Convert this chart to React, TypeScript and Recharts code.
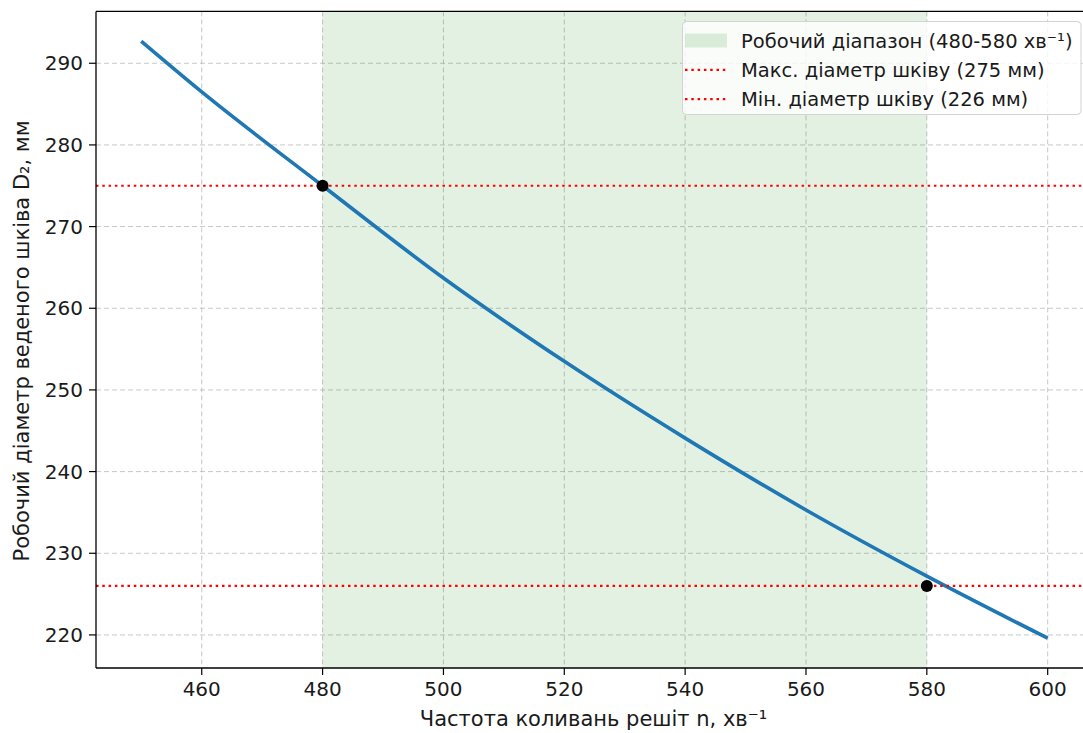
import React from 'react';
import {
  ComposedChart,
  Line,
  XAxis,
  YAxis,
  CartesianGrid,
  ReferenceArea,
  ReferenceLine,
  ReferenceDot,
  Legend,
  Label,
} from 'recharts';

// ---- data ----
const frequency = [450, 460, 480, 500, 520, 540, 560, 580, 600];
const diameter = [292.7, 286.5, 275.0, 263.7, 253.5, 244.1, 235.3, 227.2, 219.6];
const xTicks = [460, 480, 500, 520, 540, 560, 580, 600];
const yTicks = [220, 230, 240, 250, 260, 270, 280, 290];
const workRange = [480, 580];
const limitDiameters = [275, 226];
const limitFrequencies = [480, 580];
const legendLabels = [
  'Робочий діапазон (480-580 хв⁻¹)',
  'Макс. діаметр шківу (275 мм)',
  'Мін. діаметр шківу (226 мм)',
];
const xLabel = 'Частота коливань решіт n, хв⁻¹';
const yLabel = 'Робочий діаметр веденого шківа D₂, мм';
const xDomain = [442.5, 607.5];
const yDomain = [215.95, 296.35];

const data = frequency.map((n, i) => ({ n, d: diameter[i] }));

const FONT = '"DejaVu Sans", sans-serif';
const TEXT = '#1a1a1a';
const BLUE = '#1f77b4';

const renderLegend = () => {
  const rows = [19.5, 48.8, 78.1];
  const fs = 19.5;
  return (
    <svg width={400} height={95} style={{ display: 'block', fontFamily: FONT }}>
      <rect x={0.5} y={0.5} width={398.5} height={93} rx={4} ry={4}
        fill="rgba(255,255,255,0.8)" stroke="#d3d3d3" strokeWidth={1} />
      <rect x={3} y={rows[0] - 7} width={42} height={14} fill="green" fillOpacity={0.13} />
      <line x1={3} x2={45} y1={rows[1]} y2={rows[1]} stroke="red" strokeWidth={2.2} strokeDasharray="2.5 3.8" />
      <line x1={3} x2={45} y1={rows[2]} y2={rows[2]} stroke="red" strokeWidth={2.2} strokeDasharray="2.5 3.8" />
      {legendLabels.map((t, i) => (
        <text key={i} x={59} y={rows[i] + fs * 0.36} fontSize={fs} fill={TEXT} fontFamily={FONT}>
          {t}
        </text>
      ))}
    </svg>
  );
};

export default function App() {
  return (
    <div style={{ position: 'absolute', left: 0, top: 0, width: 1083, height: 733, overflow: 'hidden', background: '#fff' }}>
      <ComposedChart
        width={1100}
        height={733}
        data={data}
        margin={{ top: 11.4, right: 7, bottom: 0, left: 0 }}
        style={{ fontFamily: FONT }}
      >
        <CartesianGrid stroke="#b0b0b0" strokeOpacity={0.7} strokeDasharray="5 3" strokeWidth={1}
          verticalValues={xTicks} horizontalValues={yTicks} />
        <ReferenceArea x1={workRange[0]} x2={workRange[1]} fill="green" fillOpacity={0.11} stroke="none" ifOverflow="visible" />
        <XAxis
          dataKey="n"
          type="number"
          domain={xDomain}
          allowDataOverflow
          ticks={xTicks}
          height={65}
          tickSize={7}
          tickMargin={7}
          axisLine={{ stroke: '#000', strokeWidth: 1.3 }}
          tickLine={{ stroke: '#000', strokeWidth: 1.2 }}
          tick={{ fontSize: 20, fill: TEXT, fontFamily: FONT }}
        >
          <Label
            content={() => (
              <text x={593.5} y={726} textAnchor="middle" fontSize={21} fill={TEXT} fontFamily={FONT}>
                {xLabel}
              </text>
            )}
          />
        </XAxis>
        <YAxis
          type="number"
          domain={yDomain}
          allowDataOverflow
          ticks={yTicks}
          width={96}
          tickSize={7}
          tickMargin={6}
          axisLine={{ stroke: '#000', strokeWidth: 1.3 }}
          tickLine={{ stroke: '#000', strokeWidth: 1.2 }}
          tick={{ fontSize: 20, fill: TEXT, fontFamily: FONT }}
        >
          <Label
            content={() => (
              <text x={22} y={341} transform="rotate(-90, 22, 341)" textAnchor="middle"
                dominantBaseline="central" fontSize={21} fill={TEXT} fontFamily={FONT}>
                {yLabel}
              </text>
            )}
          />
        </YAxis>
        <ReferenceLine y={yDomain[1]} stroke="#000" strokeWidth={1.3} />
        <Line
          type="monotone"
          dataKey="d"
          stroke={BLUE}
          strokeWidth={3.6}
          dot={false}
          activeDot={false}
          isAnimationActive={false}
        />
        {limitDiameters.map((v, i) => (
          <ReferenceLine key={'l' + i} y={v} stroke="red" strokeWidth={2.2} strokeDasharray="2.5 3.8" />
        ))}
        {limitFrequencies.map((n, i) => (
          <ReferenceDot key={'p' + i} x={n} y={limitDiameters[i]} r={6} fill="#000" stroke="none" />
        ))}
        <Legend
          content={renderLegend}
          layout="horizontal"
          verticalAlign="middle"
          align="center"
          wrapperStyle={{ position: 'absolute', left: 682, top: 21, width: 400, height: 95 }}
        />
      </ComposedChart>
    </div>
  );
}
